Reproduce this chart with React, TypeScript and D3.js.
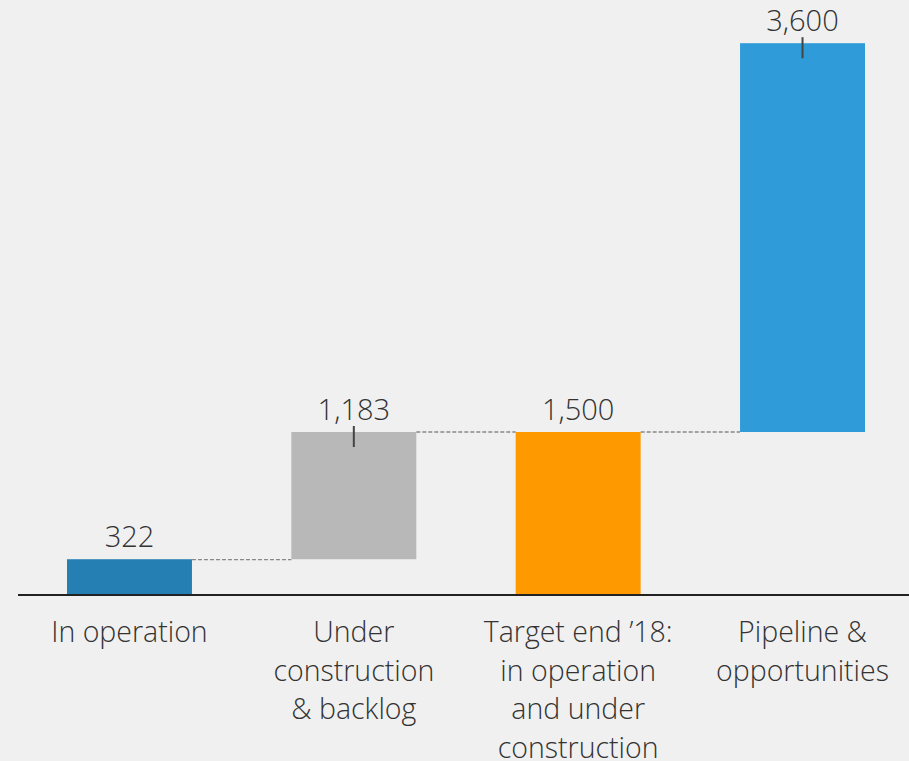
import React from "react";
import * as d3 from "d3";

const categories = ["In operation", "Under construction & backlog", "Target end ’18: in operation and under construction", "Pipeline & opportunities"];
const labelLines = [["In operation"], ["Under", "construction", "& backlog"], ["Target end ’18:", "in operation", "and under", "construction"], ["Pipeline &", "opportunities"]];
const starts = [0, 322, 0, 1500];
const ends = [322, 1500, 1500, 5100];
const valueLabels = ["322", "1,183", "1,500", "3,600"];
const showTick = [false, true, false, true];
const colors = ["#257FB2", "#B8B8B8", "#FF9900", "#2F9BD8"];

export default function App() {
  const W = 909, H = 761;
  const x = d3.scaleBand().domain(categories).range([67, 865]).paddingInner(0.443).paddingOuter(0);
  const y = d3.scaleLinear().domain([0, 1500]).range([594, 432]);
  const bw = x.bandwidth();
  const font = "'Open Sans', Lato, sans-serif";
  return (
    <svg width={W} height={H} style={{ position: "absolute", left: 0, top: 0, background: "#F0F0F0" }}>
      <rect x={0} y={0} width={W} height={H} fill="#F0F0F0" />
      {categories.map((c, i) => {
        const x0 = x(c)!;
        const top = y(Math.max(starts[i], ends[i]));
        const bot = y(Math.min(starts[i], ends[i]));
        return (
          <g key={c}>
            <rect x={x0} y={top} width={bw} height={bot - top} fill={colors[i]} />
            {showTick[i] && (
              <line x1={x0 + bw / 2} x2={x0 + bw / 2} y1={top - 6} y2={top + 15} stroke="#444" strokeWidth={2} />
            )}
            <text x={x0 + bw / 2} y={top - 12} textAnchor="middle" fontFamily={font} fontWeight={300} fontSize={29} fill="#333">
              {valueLabels[i]}
            </text>
            {labelLines[i].map((l, j) => (
              <text key={j} x={x0 + bw / 2} y={642 + j * 38.5} textAnchor="middle" fontFamily={font} fontWeight={300} fontSize={28.5} fill="#333">
                {l}
              </text>
            ))}
          </g>
        );
      })}
      {categories.slice(0, -1).map((c, i) => {
        const yy = y(ends[i]) + (i === 0 ? 0.5 : 0);
        return (
          <line key={"c" + i} x1={x(c)! + bw} x2={x(categories[i + 1])!} y1={yy} y2={yy} stroke="#888" strokeWidth={1.3} strokeDasharray="4,2" />
        );
      })}
      <line x1={18} x2={W} y1={y(0) + 1} y2={y(0) + 1} stroke="#222" strokeWidth={2} />
    </svg>
  );
}
